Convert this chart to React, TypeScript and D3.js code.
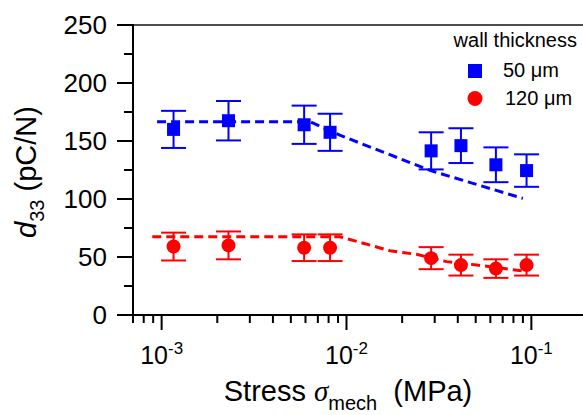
import React, { useEffect, useRef } from 'react';
import * as d3 from 'd3';

const stress = [1.16e-3, 2.3e-3, 5.9e-3, 8.15e-3, 2.87e-2, 4.16e-2, 6.43e-2, 9.42e-2];
const d33Thin = [160, 167.5, 164, 157.5, 141.5, 146, 129.5, 124.5];
const errThin = [16, 17, 16.5, 16, 16, 15, 15, 14];
const d33Thick = [59, 60, 58, 58, 49, 43, 40, 43];
const errThick = [12, 12, 11.5, 11.5, 9.5, 9, 8, 9];

// dashed model curves
const fitThinStress = [9.45e-4, 6.4e-3, 9.2e-3, 2.85e-2, 9.0e-2];
const fitThinD33 = [166.5, 166.5, 155, 124.5, 100.5];
const fitThickStress = [8.9e-4, 9.2e-3, 1.72e-2, 2.39e-2, 3.48e-2, 5.06e-2, 9.08e-2];
const fitThickD33 = [67.5, 67.5, 55.4, 52.3, 46, 43.1, 37.9];

const yTicks = [0, 50, 100, 150, 200, 250];
const yMinor = [25, 75, 125, 175, 225];
const xMajor = [1e-3, 1e-2, 1e-1];
const xMajorExp = ['-3', '-2', '-1'];

const BLUE = '#0000ff';
const RED = '#ff0000';
const FONT = '"Liberation Sans", Arial, sans-serif';

const App = () => {
  const svgRef = useRef<SVGSVGElement>(null);

  useEffect(() => {
    const svg = d3.select(svgRef.current);
    svg.selectAll('*').remove();

    const x = d3.scaleLog().domain([7e-4, 0.2]).range([133, 587]);
    const y = d3.scaleLinear().domain([0, 250]).range([315, 25]);

    const xMinor: number[] = [];
    [1e-4, 1e-3, 1e-2, 1e-1].forEach(base => {
      for (let k = 2; k <= 9; k++) {
        const v = base * k;
        if (v >= 7e-4 && v < 0.2) xMinor.push(v);
      }
    });

    // frame
    svg.append('line')
      .attr('x1', 133).attr('x2', 590).attr('y1', 25).attr('y2', 25)
      .attr('stroke', '#4d4d4d').attr('stroke-width', 2);

    const axes = svg.append('g').attr('stroke', '#000').attr('stroke-width', 2);
    axes.append('line').attr('x1', 133).attr('x2', 133).attr('y1', 24).attr('y2', 316);
    axes.append('line').attr('x1', 132).attr('x2', 590).attr('y1', 315).attr('y2', 315);

    yTicks.forEach(v => {
      axes.append('line').attr('x1', 117).attr('x2', 133).attr('y1', y(v)).attr('y2', y(v));
    });
    yMinor.forEach(v => {
      axes.append('line').attr('x1', 124).attr('x2', 133).attr('y1', y(v)).attr('y2', y(v));
    });
    xMajor.forEach(v => {
      axes.append('line').attr('x1', x(v)).attr('x2', x(v)).attr('y1', 315).attr('y2', 330);
    });
    xMinor.forEach(v => {
      axes.append('line').attr('x1', x(v)).attr('x2', x(v)).attr('y1', 315).attr('y2', 323);
    });

    // tick labels
    svg.append('g')
      .selectAll('text')
      .data(yTicks)
      .enter()
      .append('text')
      .attr('x', 107)
      .attr('y', d => y(d))
      .attr('dy', '0.36em')
      .attr('text-anchor', 'end')
      .style('font-family', FONT)
      .style('font-size', '26px')
      .text(d => d);

    xMajor.forEach((v, i) => {
      const t = svg.append('text')
        .attr('x', x(v))
        .attr('y', 364)
        .attr('text-anchor', 'middle')
        .style('font-family', FONT)
        .style('font-size', '25px');
      t.append('tspan').text('10');
      t.append('tspan').attr('dy', -10).style('font-size', '17px').text(xMajorExp[i]);
    });

    // axis titles
    const xt = svg.append('text')
      .attr('x', 348)
      .attr('y', 401)
      .attr('text-anchor', 'middle')
      .style('font-family', FONT)
      .style('font-size', '29px');
    xt.append('tspan').text('Stress ');
    xt.append('tspan').style('font-style', 'italic').style('font-family', '"Liberation Serif", serif').text('σ');
    xt.append('tspan').attr('dy', 9).style('font-size', '20px').text('mech');
    xt.append('tspan').attr('dy', -9).attr('xml:space', 'preserve').text('  (MPa)');

    const yt = svg.append('text')
      .attr('transform', 'translate(36,172) rotate(-90)')
      .attr('text-anchor', 'middle')
      .style('font-family', FONT)
      .style('font-size', '29px');
    yt.append('tspan').style('font-style', 'italic').text('d');
    yt.append('tspan').attr('dy', 8).style('font-size', '20px').text('33');
    yt.append('tspan').attr('dy', -8).text(' (pC/N)');

    // dashed curves
    const line = d3.line<[number, number]>().x(d => x(d[0])).y(d => y(d[1]));
    const drawFit = (xs: number[], ys: number[], color: string) => {
      svg.append('path')
        .attr('d', line(xs.map((v, i) => [v, ys[i]] as [number, number])))
        .attr('fill', 'none')
        .attr('stroke', color)
        .attr('stroke-width', 3)
        .attr('stroke-dasharray', '9,5');
    };
    drawFit(fitThinStress, fitThinD33, BLUE);
    drawFit(fitThickStress, fitThickD33, RED);

    // error bars + markers
    const drawSeries = (vals: number[], errs: number[], color: string, square: boolean) => {
      const g = svg.append('g').attr('stroke', color).attr('stroke-width', 2);
      vals.forEach((v, i) => {
        const cx = x(stress[i]);
        const top = y(v + errs[i]);
        const bot = y(v - errs[i]);
        g.append('line').attr('x1', cx).attr('x2', cx).attr('y1', top).attr('y2', bot);
        g.append('line').attr('x1', cx - 12.5).attr('x2', cx + 12.5).attr('y1', top).attr('y2', top);
        g.append('line').attr('x1', cx - 12.5).attr('x2', cx + 12.5).attr('y1', bot).attr('y2', bot);
      });
      vals.forEach((v, i) => {
        const cx = x(stress[i]);
        if (square) {
          svg.append('rect')
            .attr('x', cx - 6.5).attr('y', y(v) - 6.5)
            .attr('width', 13).attr('height', 13)
            .attr('fill', color);
        } else {
          svg.append('circle')
            .attr('cx', cx).attr('cy', y(v)).attr('r', 7)
            .attr('fill', color);
        }
      });
    };
    drawSeries(d33Thin, errThin, BLUE, true);
    drawSeries(d33Thick, errThick, RED, false);

    // legend
    const lg = svg.append('g').style('font-family', FONT).style('font-size', '20px');
    lg.append('text').attr('x', 577).attr('y', 47).attr('text-anchor', 'end').text('wall thickness');
    lg.append('rect').attr('x', 468).attr('y', 64).attr('width', 14).attr('height', 14).attr('fill', BLUE);
    lg.append('text').attr('x', 503).attr('y', 77).text('50 μm');
    lg.append('circle').attr('cx', 475).attr('cy', 98.5).attr('r', 7.5).attr('fill', RED);
    lg.append('text').attr('x', 505).attr('y', 105).text('120 μm');
  }, []);

  return (
    <div style={{ position: 'absolute', left: 0, top: 0, width: 583, height: 415, overflow: 'hidden', background: '#fff' }}>
      <svg ref={svgRef} width={583} height={415} style={{ display: 'block' }} />
    </div>
  );
};

export default App;
